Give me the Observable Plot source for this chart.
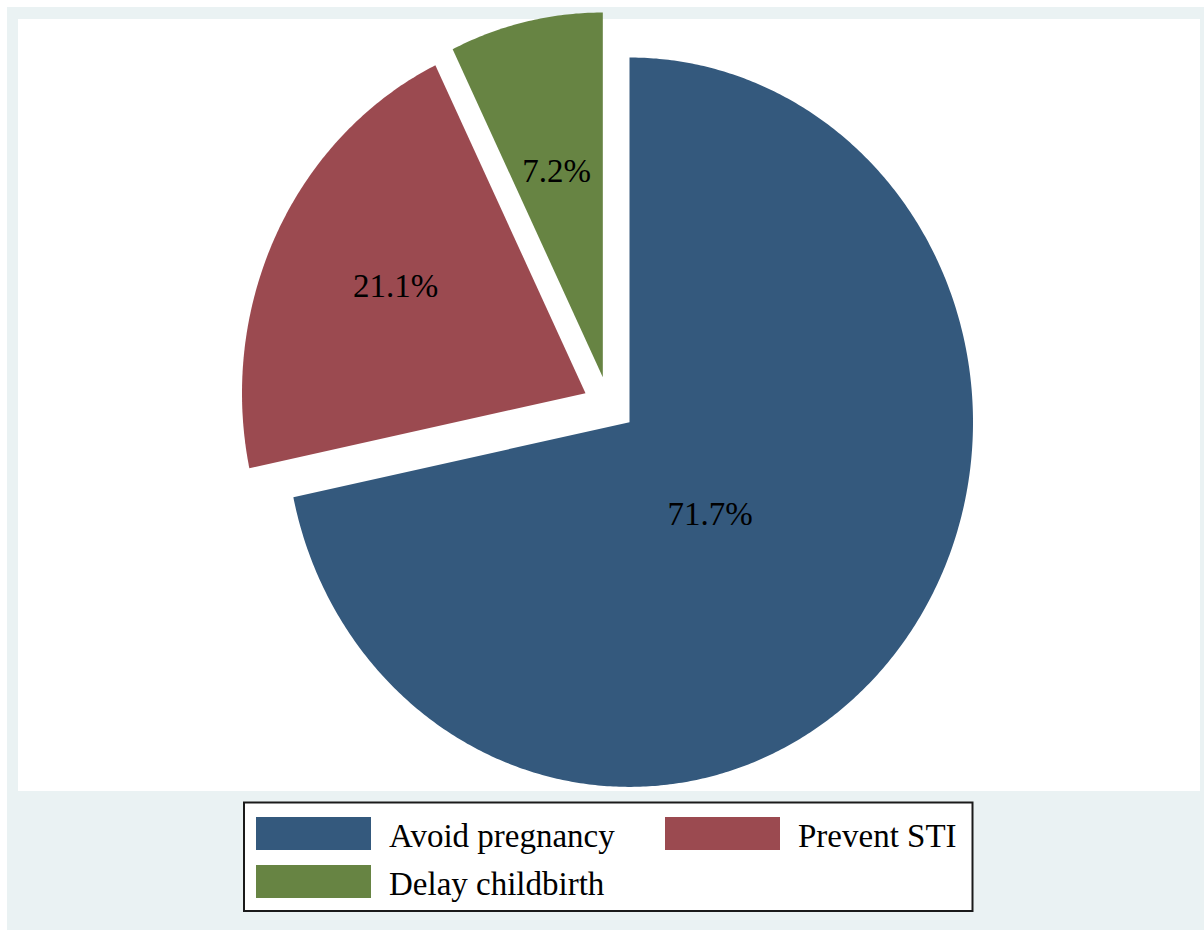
<!DOCTYPE html>
<html>
<head>
<meta charset="utf-8">
<script src="https://cdn.jsdelivr.net/npm/d3@7"></script>
<script src="https://cdn.jsdelivr.net/npm/@observablehq/plot@0.6"></script>
<style>
  html, body { margin: 0; padding: 0; background: #ffffff; }
  #frame { position: absolute; left: 7px; top: 7px; width: 1197px; height: 923px; background: #EAF2F3; }
  #plot { position: absolute; left: 18px; top: 19px; width: 1182px; height: 772px; background: #ffffff; }
  #legend { position: absolute; left: 243px; top: 801px; }
  svg { display: block; }
</style>
</head>
<body>
<div id="frame"></div>
<div id="plot"></div>
<div id="legend"></div>
<script>
// ---- data ----
const categories = ["Avoid pregnancy", "Prevent STI", "Delay childbirth"];
const percents = [71.7, 21.1, 7.2];
const colors = ["#34597D", "#9B4A50", "#678443"];

// ---- layout (styling, not data) ----
const W = 1182, H = 772;          // plot region size
const cx = 611, cy = 402.7;       // pie centre in plot region pixels
const rx = 343.5, ry = 364.7;     // pixels per unit radius (Stata ellipse)
const explode = {                 // direction (deg clockwise from 12 o'clock) and distance, unit radius
  "Avoid pregnancy": {angle: 0, dist: 0},
  "Prevent STI": {angle: 301.8, dist: 0.1507},
  "Delay childbirth": {angle: 327.8, dist: 0.1458}
};
const labelAt = {                 // label direction / distance from slice tip, unit radius
  "Avoid pregnancy": {angle: 137.2, r: 0.345},
  "Prevent STI": {angle: 298, r: 0.626},
  "Delay childbirth": {angle: 346.6, r: 0.58}
};
const rad = d => d * Math.PI / 180;

// ---- build slice polygons from the data ----
const total = d3.sum(percents);
const slicePts = [];
const labels = [];
let start = 0;
categories.forEach((cat, i) => {
  const sweep = percents[i] / total * 360;
  const end = start + sweep;
  const ex = explode[cat];
  const ox = Math.sin(rad(ex.angle)) * ex.dist;
  const oy = Math.cos(rad(ex.angle)) * ex.dist;
  slicePts.push({cat, x: ox, y: oy});
  const n = Math.max(2, Math.ceil(sweep / 0.5));
  for (let k = 0; k <= n; k++) {
    const a = rad(start + sweep * k / n);
    slicePts.push({cat, x: ox + Math.sin(a), y: oy + Math.cos(a)});
  }
  slicePts.push({cat, x: ox, y: oy});
  const la = labelAt[cat];
  labels.push({
    cat,
    x: ox + Math.sin(rad(la.angle)) * la.r,
    y: oy + Math.cos(rad(la.angle)) * la.r,
    text: percents[i].toFixed(1) + "%"
  });
  start = end;
});

const chart = Plot.plot({
  width: W,
  height: H,
  margin: 0,
  style: {background: "#ffffff", overflow: "visible"},
  x: {domain: [-cx / rx, (W - cx) / rx], axis: null},
  y: {domain: [-(H - cy) / ry, cy / ry], axis: null},
  color: {domain: categories, range: colors},
  marks: [
    Plot.line(slicePts, {x: "x", y: "y", z: "cat", fill: "cat", stroke: "none", curve: "linear"}),
    Plot.text(labels, {x: "x", y: "y", text: "text", fontSize: 33, fontFamily: "Liberation Serif, Times New Roman, serif", fill: "#000000", textAnchor: "middle", lineAnchor: "middle"})
  ]
});
document.getElementById("plot").appendChild(chart);

// ---- legend ----
const LW = 731, LH = 112;
const lg = d3.select("#legend").append("svg").attr("width", LW).attr("height", LH);
lg.append("rect").attr("x", 1).attr("y", 1.5).attr("width", 728.5).attr("height", 108.5)
  .attr("fill", "#ffffff").attr("stroke", "#1a1a1a").attr("stroke-width", 2);
categories.forEach((cat, i) => {
  const col = i % 2, row = Math.floor(i / 2);
  const sx = col === 0 ? 13 : 422;
  const sy = 16 + row * 48;
  lg.append("rect").attr("x", sx).attr("y", sy).attr("width", 115).attr("height", 33).attr("fill", colors[i]);
  lg.append("text").attr("x", sx + 133).attr("y", sy + 29.7)
    .attr("font-family", "Liberation Serif, Times New Roman, serif").attr("font-size", 33)
    .attr("fill", "#000000").text(cat);
});
</script>
</body>
</html>
